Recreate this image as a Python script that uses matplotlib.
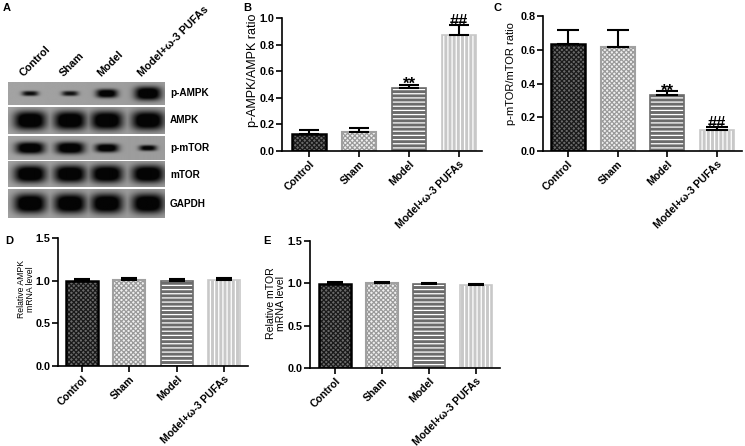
import numpy as np
import matplotlib
matplotlib.use("Agg")
import matplotlib.pyplot as plt

plt.rcParams['font.family'] = ['Liberation Sans', 'DejaVu Sans']

# ---------------- data ----------------
groups = ['Control', 'Sham', 'Model', 'Model+ω-3 PUFAs']

pampk_ratio = [0.13, 0.14, 0.475, 0.875]
pampk_err = [0.03, 0.03, 0.025, 0.07]
pampk_marks = ['', '', '**', '##']

pmtor_ratio = [0.635, 0.615, 0.33, 0.125]
pmtor_err = [0.08, 0.10, 0.025, 0.018]
pmtor_marks = ['', '', '**', '##']

ampk_mrna = [1.00, 1.01, 1.00, 1.01]
ampk_mrna_err = [0.02, 0.02, 0.02, 0.02]

mtor_mrna = [0.99, 1.00, 0.99, 0.985]
mtor_mrna_err = [0.02, 0.02, 0.015, 0.012]

blot_rows = ['p-AMPK', 'AMPK', 'p-mTOR', 'mTOR', 'GAPDH']
band_dark = [[0.75, 0.72, 0.95, 1.0],
             [1.0, 1.0, 1.0, 1.0],
             [1.0, 1.0, 0.97, 0.85],
             [1.0, 1.0, 1.0, 1.0],
             [1.0, 1.0, 1.0, 1.0]]
band_w = [[0.42, 0.42, 0.55, 0.68],
          [0.82, 0.82, 0.82, 0.82],
          [0.74, 0.74, 0.60, 0.45],
          [0.82, 0.82, 0.82, 0.82],
          [0.82, 0.82, 0.82, 0.82]]
band_h = [[0.22, 0.22, 0.38, 0.60],
          [0.70, 0.70, 0.70, 0.70],
          [0.50, 0.50, 0.36, 0.24],
          [0.68, 0.68, 0.68, 0.68],
          [0.68, 0.68, 0.68, 0.68]]

# ---------------- figure ----------------
W, H = 745, 446
fig = plt.figure(figsize=(W / 100, H / 100), dpi=100)


def ax_px(x0, y0, x1, y1):
    return fig.add_axes([x0 / W, 1 - y1 / H, (x1 - x0) / W, (y1 - y0) / H])


# bar styles: (face, hatch, hatchcolor, edgecolor, edge lw)
styles = [
    ('#6a6a6a', 'xxxxxxx', '#1a1a1a', '#000000', 1.8),
    ('#f0f0f0', 'xxxxxxx', '#9a9a9a', '#a0a0a0', 1.5),
    ('#6b6b6b', '----', '#ffffff', '#6b6b6b', 1.2),
    ('#c8c8c8', '||||', '#ffffff', '#c8c8c8', 1.2),
]


def bar_panel(ax, vals, errs, ylim, yticks, ylabel, xlim, width, capsize,
              ylab_size, ylab_xy, marks=None, mark_size=12):
    x = np.arange(len(vals))
    for i, v in enumerate(vals):
        face, hatch, hc, ec, lw = styles[i]
        ax.bar(x[i], v, width=width, color=face, edgecolor='none', zorder=2)
        with plt.rc_context({'hatch.linewidth': 0.9}):
            ax.bar(x[i], v, width=width, color='none', edgecolor=hc,
                   hatch=hatch, linewidth=0, zorder=2.1)
        ax.bar(x[i], v, width=width, color='none', edgecolor=ec,
               linewidth=lw, zorder=2.2)
    ax.errorbar(x, vals, yerr=[np.zeros(len(vals)), errs], fmt='none',
                ecolor='black', elinewidth=1.5, capsize=capsize,
                capthick=1.5, zorder=3)
    if marks:
        for i, m in enumerate(marks):
            if m:
                off = -3.3 if '*' in m else -0.8
                ax.annotate(m, (x[i], vals[i] + errs[i]),
                            xytext=(0, off), textcoords='offset points',
                            ha='center', va='baseline', fontsize=mark_size,
                            fontweight='bold', zorder=4)
    ax.set_xlim(*xlim)
    ax.set_ylim(*ylim)
    ax.set_yticks(yticks)
    ax.set_yticklabels([f'{t:.1f}' for t in yticks], fontsize=7.8,
                       fontweight='bold')
    ax.set_xticks(x)
    ax.set_xticklabels(groups, rotation=45, ha='right', va='top',
                       rotation_mode='anchor', fontsize=7.6,
                       fontweight='bold')
    for s in ('top', 'right'):
        ax.spines[s].set_visible(False)
    for s in ('left', 'bottom'):
        ax.spines[s].set_linewidth(1.2)
    ax.tick_params(axis='both', length=4, width=1.2, pad=1.5)
    ax.set_ylabel(ylabel, fontsize=ylab_size, linespacing=1.0)
    ax.yaxis.set_label_coords(*ylab_xy)


# Panel B
axB = ax_px(282, 18, 482, 151)
bar_panel(axB, pampk_ratio, pampk_err, (0, 1.0), [0, 0.2, 0.4, 0.6, 0.8, 1.0],
          'p-AMPK/AMPK ratio', (-0.54, 3.46), 0.68, 7, 9, (-0.115, 0.61),
          pampk_marks)

# Panel C
axC = ax_px(543, 16, 742, 151)
bar_panel(axC, pmtor_ratio, pmtor_err, (0, 0.8), [0, 0.2, 0.4, 0.6, 0.8],
          'p-mTOR/mTOR ratio', (-0.5, 3.5), 0.68, 8, 8, (-0.135, 0.57),
          pmtor_marks)

# Panel D
axD = ax_px(58, 238, 248, 366)
bar_panel(axD, ampk_mrna, ampk_mrna_err, (0, 1.5), [0, 0.5, 1.0, 1.5],
          'Relative AMPK\nmRNA level', (-0.51, 3.51), 0.68, 6, 6.2,
          (-0.12, 0.60))

# Panel E
axE = ax_px(310, 241, 500, 368)
bar_panel(axE, mtor_mrna, mtor_mrna_err, (0, 1.5), [0, 0.5, 1.0, 1.5],
          'Relative mTOR\nmRNA level', (-0.53, 3.51), 0.68, 6, 7.6,
          (-0.125, 0.51))

# Panel A: western blot
axA = ax_px(8, 82, 165, 218)
strips = [(0, 22.5), (24.5, 51.5), (53.5, 77.5), (79.5, 105.5), (107.5, 136)]
lane_x = [0.56, 1.58, 2.52, 3.57]
nx = 320
for r, (t, b) in enumerate(strips):
    ny = int((b - t) * 4)
    xs = np.linspace(0, 4, nx)
    ys = np.linspace(0, 1, ny)
    X, Y = np.meshgrid(xs, ys)
    img = np.full_like(X, 0.64) - 0.03 * X / 4
    dark = np.zeros_like(X)
    for j in range(4):
        dx = (X - lane_x[j]) / (band_w[r][j] / 2)
        dy = (Y - 0.5) / (band_h[r][j] / 2)
        d = band_dark[r][j] * np.exp(-(dx ** 2) ** 1.6 - (dy ** 2) ** 1.4)
        dark = np.maximum(dark, d)
    img = img * (1 - 0.97 * np.clip(dark * 1.3, 0, 1))
    axA.imshow(img, cmap='gray', vmin=0, vmax=1, extent=(0, 4, b, t),
               aspect='auto', interpolation='bilinear')
    axA.text(4.13, (t + b) / 2, blot_rows[r], ha='left', va='center',
             fontsize=7.2, fontweight='bold', clip_on=False)
axA.set_xlim(0, 4)
axA.set_ylim(136, 0)
axA.axis('off')
for j, g in enumerate(groups):
    axA.text(lane_x[j] - 0.12, -4, g, rotation=45, ha='left', va='bottom',
             rotation_mode='anchor', fontsize=7.8, fontweight='bold',
             clip_on=False)

# panel letters
for lab, (px, py) in zip('ABCDE', [(3, 8), (243, 8), (493, 8), (5, 241), (263, 241)]):
    fig.text(px / W, 1 - py / H, lab, fontsize=8, fontweight='bold',
             ha='left', va='center')

fig.savefig('out.png', dpi=100, facecolor='white')
